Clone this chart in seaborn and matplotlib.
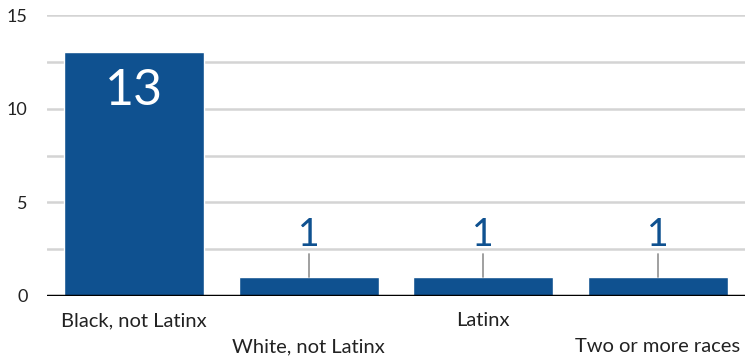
import matplotlib
matplotlib.use("Agg")
import matplotlib.pyplot as plt
import matplotlib.transforms as mtransforms
import seaborn as sns
import pandas as pd

categories = ["Black, not Latinx", "White, not Latinx", "Latinx", "Two or more races"]
counts = [13, 1, 1, 1]
y_ticks = [0, 5, 10, 15]

BAR_COLOR = "#0f5190"
GRID_COLOR = "#d4d4d4"
TEXT_COLOR = "#222222"

sns.set_theme(style="white")
plt.rcParams["font.family"] = ["Lato", "DejaVu Sans"]

df = pd.DataFrame({"category": categories, "count": counts})

fig = plt.figure(figsize=(7.45, 3.58), dpi=100)
ax = fig.add_axes([47 / 745, 62 / 358, 698 / 745, 281 / 358])

sns.barplot(data=df, x="category", y="count", color=BAR_COLOR, width=0.8,
            saturation=1, ax=ax, zorder=3)

ax.set_ylim(0, 15)
ax.set_xlim(-0.5, len(categories) - 0.5)
ax.set_yticks(y_ticks)
ax.set_yticklabels([str(t) for t in y_ticks], fontsize=13, color=TEXT_COLOR)
ax.tick_params(axis="y", length=0, pad=14)
for g in [2.5 * i for i in range(1, 7)]:
    ax.axhline(g, color=GRID_COLOR, lw=1.8, zorder=1)
ax.axhline(0, color="black", lw=2.5, zorder=4)
for s in ax.spines.values():
    s.set_visible(False)
ax.set_xlabel("")
ax.set_ylabel("")
ax.set_xticks(range(len(categories)))
ax.set_xticklabels([])
ax.tick_params(axis="x", length=0)

# staggered category labels under the axis
for i, name in enumerate(categories):
    dy = -30 if i % 2 == 0 else -56
    tr = mtransforms.offset_copy(ax.get_xaxis_transform(), fig=fig, x=0, y=dy, units="dots")
    ax.text(i, 0, name, transform=tr, ha="center", va="baseline",
            fontsize=14.5, color=TEXT_COLOR, clip_on=False)

# value labels: inside tall bars, above short bars with a leader line
px_per_unit = ax.bbox.height / 15
for i, v in enumerate(counts):
    if v >= 5:
        tr = mtransforms.offset_copy(ax.transData, fig=fig, x=0, y=-53, units="dots")
        ax.text(i, v, str(v), transform=tr, ha="center", va="baseline",
                fontsize=36, color="white", zorder=5)
    else:
        ax.plot([i, i], [v, v + 23 / px_per_unit], color="#999999", lw=1.3, zorder=5)
        tr = mtransforms.offset_copy(ax.transData, fig=fig, x=0, y=31, units="dots")
        ax.text(i, v, str(v), transform=tr, ha="center", va="baseline",
                fontsize=27, color=BAR_COLOR, zorder=5)

fig.savefig("out.png", dpi=100)
